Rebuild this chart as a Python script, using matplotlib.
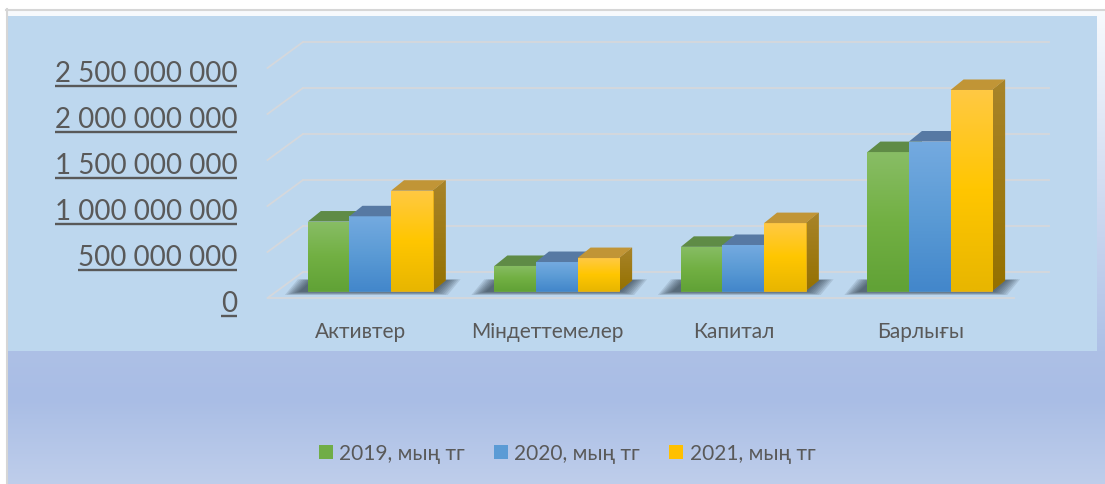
import numpy as np
import matplotlib
matplotlib.use('Agg')
import matplotlib.pyplot as plt
from matplotlib.patches import Polygon, Rectangle, Patch
from matplotlib.colors import to_rgb

plt.rcParams['font.family'] = ['Lato', 'Open Sans', 'DejaVu Sans']

categories = ['Активтер', 'Міндеттемелер', 'Капитал', 'Барлығы']
series_names = ['2019, мың тг', '2020, мың тг', '2021, мың тг']
v2019 = [755e6, 272e6, 480e6, 1510e6]
v2020 = [812e6, 315e6, 500e6, 1625e6]
v2021 = [1090e6, 358e6, 738e6, 2185e6]
yticks = [0, 500e6, 1000e6, 1500e6, 2000e6, 2500e6]
ytick_labels = ['0', '500 000 000', '1 000 000 000', '1 500 000 000',
                '2 000 000 000', '2 500 000 000']

# front gradient (top, mid, bottom), top face, side gradient (top, bottom)
styles = [
    dict(front=['#88BD65', '#72B043', '#61A236'], top='#5F8B46',
         side=['#517C38', '#456C2D'], edge='#6AA53F', legend='#70AD47'),
    dict(front=['#74AAE0', '#5B9BD5', '#4387CB'], top='#5779A3',
         side=['#44699A', '#375B86'], edge='#4D8ECC', legend='#5B9BD5'),
    dict(front=['#FFC943', '#FFC600', '#E8B600'], top='#C19536',
         side=['#A8842A', '#957100'], edge='#E9B21C', legend='#FFC000'),
]
series_vals = [v2019, v2020, v2021]

W, H = 1105, 485
TEXT = '#595959'
GRID = '#D5D8DC'

# back wall of the 3d box, in pixels from the top-left corner
BACK_L, BACK_R = 303, 1049
ZERO_Y, TOP_Y = 273, 43
ppx = (BACK_R - BACK_L) / len(categories)
ppy = (ZERO_Y - TOP_Y) / yticks[-1]


def off(dx, dy):
    # pixel offset -> data offset (dy positive = up)
    return dx / ppx, dy / ppy


FX, FY = off(-35.5, -26)   # front edge of the floor
BX, BY = off(-26, -19)     # front face of the bars
DX, DY = off(13, 10.5)     # depth of a bar
bw = 41.6 / ppx

fig = plt.figure(figsize=(W / 100, H / 100), dpi=100)
ax = fig.add_axes([0, 0, 1, 1])
ax.axis('off')


def ax_frac(x, y):
    return x / W, 1 - y / H


# background: vertical gradient, then the flat plot area on top
stops_y = [10, 180, 352, 400, 485]
stops_c = ['#F8FAFD', '#D4DEF2', '#ADC0E6', '#A9BDE5', '#BFCEEB']
rows = np.arange(10, 485)
cols = np.array([to_rgb(c) for c in stops_c])
grad = np.stack([np.interp(rows, stops_y, cols[:, k]) for k in range(3)], axis=1)
ax.imshow(grad[:, None, :], extent=(7 / W, 1, 0, 1 - 10 / H), aspect='auto',
          transform=ax.transAxes, zorder=0, interpolation='bilinear')
x0, y1 = ax_frac(8, 352)
x1, y0 = ax_frac(1097, 17)
ax.add_patch(Rectangle((x0, y1), x1 - x0, y0 - y1, transform=ax.transAxes,
                       fc='#BDD7EE', ec='none', zorder=0.5))
ax.plot([6.5 / W, 6.5 / W], [0, 1 - 10 / H], color='#D6D6D6', lw=1.5,
        transform=ax.transAxes, zorder=0.6)
ax.plot([6 / W, 1], [1 - 10.5 / H] * 2, color='#D6D6D6', lw=1.5,
        transform=ax.transAxes, zorder=0.6)

# back wall gridlines and left wall diagonals
left, right = -0.5, len(categories) - 0.5
for v in yticks:
    ax.plot([left, right], [v, v], color=GRID, lw=1.3, zorder=1.5)
    ax.plot([left, left + FX], [v, v + FY], color=GRID, lw=1.3, zorder=1.5)
ax.plot([left + FX, right + FX], [FY, FY], color=GRID, lw=1.3, zorder=1.5)

xc = np.arange(len(categories))

# soft shadow under each group of bars
for c in xc:
    gl, gr = c - 1.5 * bw + BX, c + 1.5 * bw + BX
    for k in range(8):
        ex = (19 - 2 * k) / ppx
        ey = (4 - 0.45 * k) / ppy
        sx = -4 / ppx
        pts = [(gl - ex + sx, BY - ey), (gr + ex + sx, BY - ey),
               (gr + DX + ex + sx, BY + DY + ey * 0.3),
               (gl + DX - ex + sx, BY + DY + ey * 0.3)]
        ax.add_patch(Polygon(pts, closed=True, fc='#25313D', ec='none',
                             alpha=0.12, zorder=2))


def vgrad(colors, n=64):
    c = np.array([to_rgb(x) for x in colors])
    t = np.linspace(0, 1, n)
    tp = np.linspace(0, 1, len(colors))
    return np.stack([np.interp(t, tp, c[:, k]) for k in range(3)], axis=1)[:, None, :]


for j, (vals, st) in enumerate(zip(series_vals, styles)):
    z = 3 + j
    xs = xc + (j - 1) * bw + BX
    bars = ax.bar(xs, vals, width=bw, bottom=BY, color=st['front'][1],
                  edgecolor=st['edge'], linewidth=0.6, zorder=z + 0.1)
    for rect, v in zip(bars, vals):
        bx0 = rect.get_x()
        bx1 = bx0 + rect.get_width()
        top = BY + v
        # side face
        side = Polygon([(bx1, BY), (bx1 + DX, BY + DY), (bx1 + DX, top + DY),
                        (bx1, top)], closed=True, fc=st['side'][0], ec='none',
                       zorder=z)
        ax.add_patch(side)
        im = ax.imshow(vgrad(st['side']), extent=(bx1, bx1 + DX, BY, top + DY),
                       aspect='auto', zorder=z + 0.01, interpolation='bilinear')
        im.set_clip_path(side)
        # front gradient
        im = ax.imshow(vgrad(st['front']), extent=(bx0, bx1, BY, top),
                       aspect='auto', zorder=z + 0.2, interpolation='bilinear')
        im.set_clip_path(rect)
        # top face
        ax.add_patch(Polygon([(bx0, top), (bx1, top), (bx1 + DX, top + DY),
                              (bx0 + DX, top + DY)], closed=True,
                             fc=st['top'], ec='none', zorder=z + 0.3))

# labels
ytexts = []
for v, lab in zip(yticks, ytick_labels):
    t = ax.text(left + FX - 30 / ppx, v + FY - 13.5 / ppy, lab, ha='right',
                va='baseline', fontsize=20, color=TEXT, zorder=6)
    ytexts.append((v, t))
for c, name in zip(xc, categories):
    ax.text(c + FX, FY - 39 / ppy, name, ha='center', va='baseline',
            fontsize=15, color=TEXT, zorder=6)

handles = [Patch(fc=st['legend'], ec='none') for st in styles]
fig.legend(handles, series_names, loc='center',
           bbox_to_anchor=(567 / W, 1 - 454 / H), ncol=3, frameon=False,
           fontsize=15, labelcolor=TEXT, handlelength=0.68, handleheight=0.68,
           handletextpad=0.3, columnspacing=1.4)

ax.set_xlim(-0.5 - BACK_L / ppx, right + (W - BACK_R) / ppx)
ax.set_ylim(-(H - ZERO_Y) / ppy, yticks[-1] + TOP_Y / ppy)

# underline the value labels like the original
fig.canvas.draw()
inv = ax.transData.inverted()
for v, t in ytexts:
    bb = t.get_window_extent()
    xa, xb = inv.transform([[bb.x0, 0], [bb.x1, 0]])[:, 0]
    yu = v + FY - 17.5 / ppy
    ax.plot([xa, xb], [yu, yu], color=TEXT, lw=1.7, solid_capstyle='butt',
            zorder=6)

fig.savefig('out.png', dpi=100)
